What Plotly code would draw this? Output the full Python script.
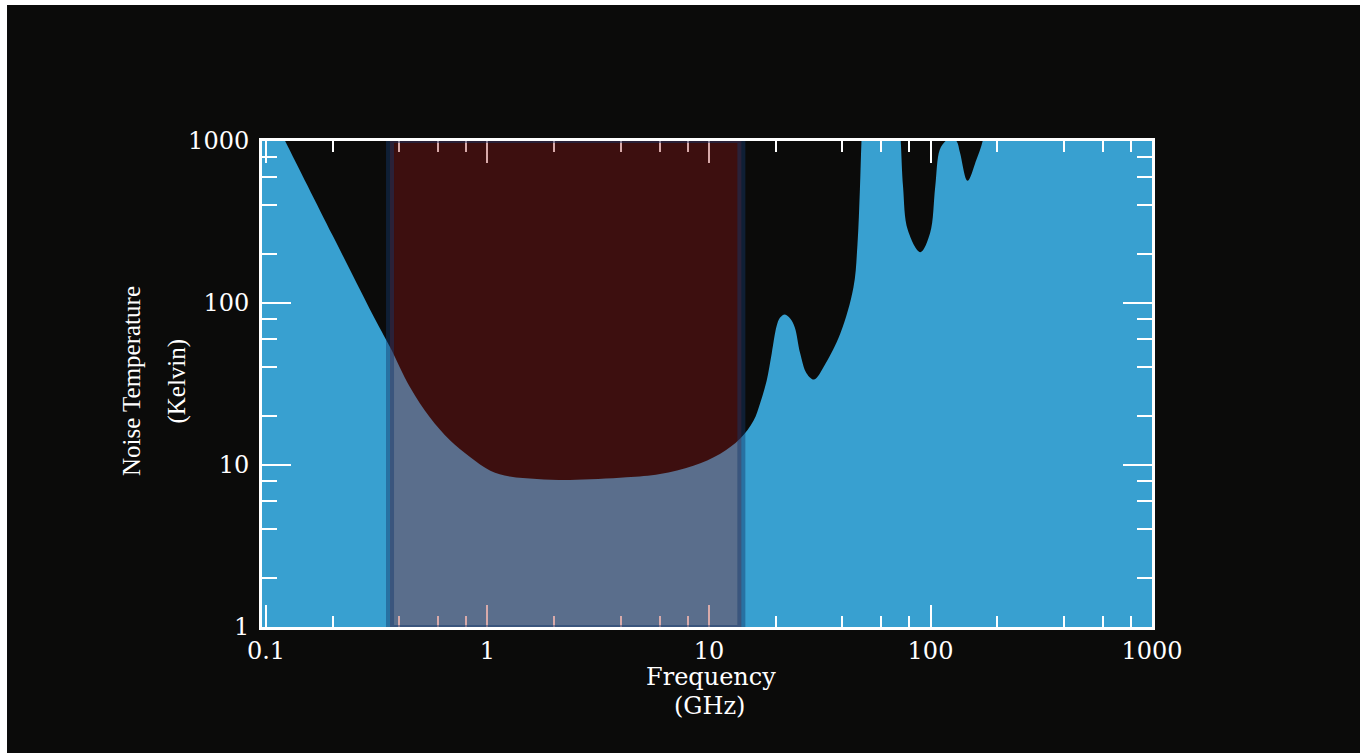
import plotly.graph_objects as go

# Sky noise temperature curve (GHz, Kelvin)
freq_ghz = [0.09, 0.1, 0.122, 0.2, 0.316, 0.363, 0.447, 0.549, 0.677, 0.834, 1.03, 1.26,
            1.67, 2.36, 4.24, 6.01, 8.5, 11.2, 13.8, 15.9, 17.0, 18.2, 19.2, 20.2, 20.9,
            22.0, 23.3, 24.4, 25.8, 27.6, 29.8, 33.5, 39.2, 44.9, 46.8, 48.0,
            48.8, 50.0, 55.0, 65.0, 72.0, 73.4, 75.2, 79.0, 90.0,
            99.6, 105.0, 110.0, 117.0, 124.0, 131.0, 136.0, 147.0, 161.0, 172.0, 180.0,
            190.0, 300.0, 1000.0, 1100.0]
temp_k = [2290, 1720, 1000, 261, 76, 53.5, 30.2, 19.7, 14.2, 11.2, 9.23, 8.48,
          8.2, 8.09, 8.4, 8.81, 9.91, 11.7, 14.5, 18.8, 24.0, 33.0, 49, 72, 81,
          85, 80, 70.7, 48.9, 36.7, 33.7, 42, 65, 125, 230, 500,
          1000, 2000, 3000, 3000, 1500, 1000, 520, 282, 206,
          270, 520, 880, 1000, 1040, 1000, 843, 568, 763, 1000, 1500,
          3000, 3000, 3000, 3000]

# Highlighted band (GHz) and temperature extent
band_freq = [0.363, 14.0]
band_temp = [0.972, 1028]

x_ticks = [0.1, 1, 10, 100, 1000]
x_ticktext = ["0.1", "1", "10", "100", "1000"]
y_ticks = [1, 10, 100, 1000]
y_ticktext = ["1", "10", "100", "1000"]
minor_mult = [2, 4, 6, 8]
x_minor = [m * d for d in [0.1, 1, 10, 100] for m in minor_mult]
y_minor = [m * d for d in [1, 10, 100] for m in minor_mult]

BG = "#0b0b0a"
BLUE = "#38a0d0"
fontnum = dict(family="DejaVu Serif", size=24, color="white")
fonttitle_x = dict(family="DejaVu Serif", size=24, color="white")
fonttitle_y = dict(family="Liberation Serif", size=25, color="white")

fig = go.Figure()
fig.add_trace(go.Scatter(x=[freq_ghz[0], freq_ghz[-1]], y=[0.5, 0.5], mode="lines",
                         line=dict(width=0), hoverinfo="skip", showlegend=False))
fig.add_trace(go.Scatter(x=freq_ghz, y=temp_k, mode="lines", fill="tonexty",
                         fillcolor=BLUE, line=dict(width=0, shape="spline", smoothing=1.0),
                         showlegend=False))

fig.add_shape(type="rect", xref="x", yref="y", x0=band_freq[0], x1=band_freq[1],
              y0=band_temp[0], y1=band_temp[1], layer="above",
              fillcolor="rgba(150,25,25,0.37)",
              line=dict(color="rgba(20,55,106,0.45)", width=8))

# white strips at top and left edges of the picture
fig.add_shape(type="rect", xref="paper", yref="paper", x0=-0.30, x1=-0.2865, y0=-0.3, y1=1.3,
              fillcolor="white", line=dict(width=0), layer="below")
fig.add_shape(type="rect", xref="paper", yref="paper", x0=-0.3, x1=1.3, y0=1.2800, y1=1.3,
              fillcolor="white", line=dict(width=0), layer="below")

axis_common = dict(type="log", showgrid=False, zeroline=False, showline=True,
                   linecolor="white", linewidth=3, mirror="ticks", ticks="inside",
                   tickcolor="white", tickwidth=2, tickfont=fontnum)

fig.update_xaxes(**axis_common, range=[-1.018, 3], tickmode="array", tickvals=x_ticks,
                 ticktext=x_ticktext, ticklen=22, ticklabelstandoff=0,
                 minor=dict(tickmode="array", tickvals=x_minor, ticks="inside", ticklen=11,
                            tickwidth=2, tickcolor="white", showgrid=False))
fig.update_yaxes(**axis_common, range=[0, 3], tickmode="array", tickvals=y_ticks,
                 ticktext=y_ticktext, ticklen=29, ticklabelstandoff=5,
                 minor=dict(tickmode="array", tickvals=y_minor, ticks="inside", ticklen=15,
                            tickwidth=2, tickcolor="white", showgrid=False))

fig.add_annotation(text="Noise Temperature", xref="paper", yref="paper", x=-0.1466, y=0.505,
                   textangle=-90, showarrow=False, xanchor="center", yanchor="middle",
                   font=fonttitle_y)
fig.add_annotation(text="(Kelvin)", xref="paper", yref="paper", x=-0.0955, y=0.505,
                   textangle=-90, showarrow=False, xanchor="center", yanchor="middle",
                   font=fonttitle_y)
fig.add_annotation(text="Frequency", xref="paper", yref="paper", x=0.5045, y=-0.103,
                   showarrow=False, xanchor="center", yanchor="middle", font=fonttitle_x)
fig.add_annotation(text="(GHz)", xref="paper", yref="paper", x=0.503, y=-0.162,
                   showarrow=False, xanchor="center", yanchor="middle", font=fonttitle_x)

fig.update_layout(width=1360, height=753, margin=dict(l=262, r=208, t=141, b=126),
                  paper_bgcolor=BG, plot_bgcolor=BG, showlegend=False)

fig.write_html("out.html")
